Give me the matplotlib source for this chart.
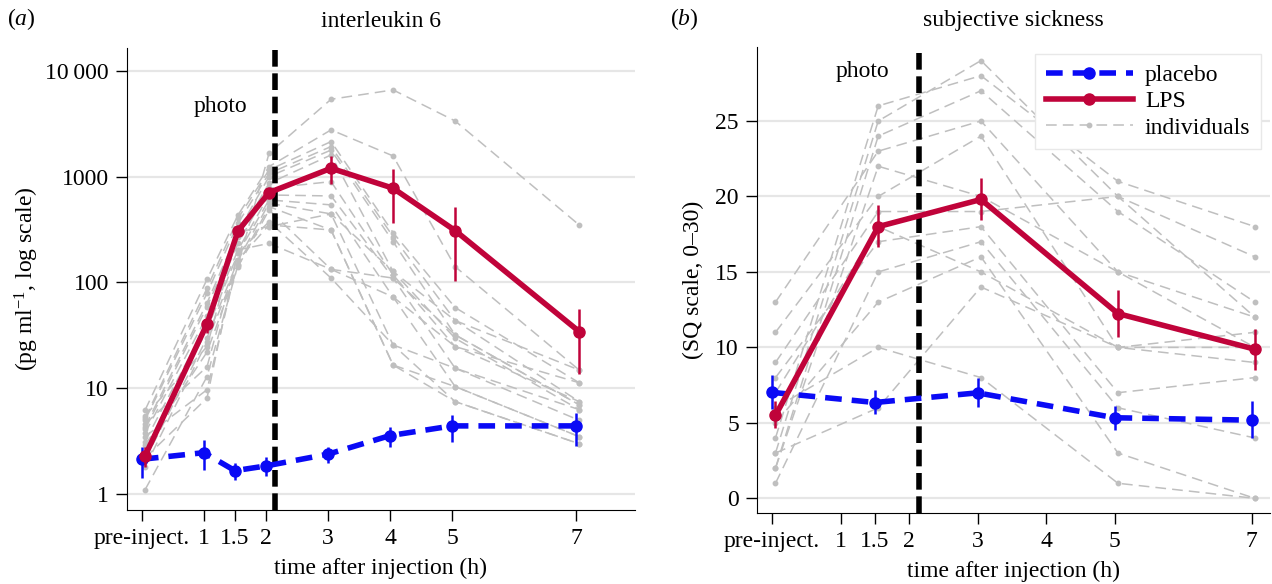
import numpy as np
import matplotlib
matplotlib.use("Agg")
import matplotlib.pyplot as plt
from matplotlib.lines import Line2D

plt.rcParams['font.family'] = ['Liberation Serif', 'DejaVu Serif']
plt.rcParams['mathtext.fontset'] = 'custom'
plt.rcParams['mathtext.rm'] = 'Liberation Serif'
plt.rcParams['mathtext.it'] = 'Liberation Serif:italic'
FS = 17
plt.rcParams['font.size'] = FS

# ---- data: interleukin 6 (pg/ml) ----
il6_times = [0, 1, 1.5, 2, 3, 4, 5, 7]
il6_lps = [2.3, 40.6, 307, 706, 1197, 776, 309, 34.4]
il6_lps_lo = [1.82, 33, 280, 650, 851, 367, 104, 13.6]
il6_lps_hi = [2.78, 46, 340, 780, 1567, 1172, 513, 55.8]
il6_pla = [2.14, 2.47, 1.67, 1.85, 2.39, 3.58, 4.42, 4.42]
il6_pla_lo = [1.42, 1.70, 1.37, 1.49, 1.99, 2.82, 3.14, 2.86]
il6_pla_hi = [2.78, 3.26, 1.99, 2.23, 2.78, 4.35, 5.62, 5.90]
il6_indiv = [
    [1.1, 12.9, 147, 1660, 5370, 6580, 3350, 349],
    [6.2, 107, 434, 1242, 2760, 1566, 141, 14.9],
    [5.2, 88, 404, 1156, 2140, 296, 58, 11.3],
    [5.0, 79, 363, 1072, 1920, 271, 43.7, 7.5],
    [4.35, 64, 302, 1000, 1780, 243, 32, 7.0],
    [4.1, 59, 271, 864, 1600, 127, 29.7, 6.3],
    [3.77, 48, 234, 775, 896, 118, 24.8, 7.5],
    [3.14, 41, 203, 670, 656, 110, 15.5, 6.3],
    [2.44, 36, 189, 602, 540, 73, 10.4, 3.5],
    [2.11, 30, 163, 560, 444, 25.7, 7.5, 3.0],
    [1.8, 27.6, 147, 520, 313, 16.6, 10.4, 3.5],
    [2.9, 22, 141, 484, 133, 110, 32, 7.0],
    [4.6, 16, 189, 375, 110, 25.7, 15.5, 5.0],
    [3.5, 9.7, 163, 349, 313, 16.6, 7.5, 3.0],
    [2.2, 8.1, 203, 234, 133, 73, 24.8, 11.3],
    [5.5, 24.8, 302, 337, 444, 127, 43.7, 14.9],
]

# ---- data: subjective sickness (SQ 0-30) ----
sq_times = [0, 1.5, 3, 5, 7]
sq_lps = [5.5, 18.0, 19.8, 12.24, 9.88]
sq_lps_lo = [4.63, 16.65, 18.42, 10.7, 8.49]
sq_lps_hi = [6.46, 19.46, 21.24, 13.79, 11.25]
sq_pla = [7.02, 6.35, 6.99, 5.34, 5.18]
sq_pla_lo = [5.89, 5.58, 6.02, 4.52, 3.97]
sq_pla_hi = [8.16, 7.17, 8.0, 6.11, 6.44]
sq_indiv = [
    [4, 26, 28, 21, 18],
    [3, 25, 29, 20, 16],
    [2, 24, 27, 19, 13],
    [13, 23, 25, 15, 12],
    [11, 20, 24, 10, 11],
    [9, 19, 19, 20, 12],
    [8, 17, 18, 7, 8],
    [1, 15, 17, 6, 4],
    [5, 13, 16, 3, 0],
    [6, 10, 8, 1, 0],
    [3, 6, 14, 10, 10],
    [7, 18, 15, 10, 9],
    [2, 22, 20, 15, 10],
]

tick_pos = [0, 1, 1.5, 2, 3, 4, 5, 7]
tick_lab = ['pre-inject.', '1', '1.5', '2', '3', '4', '5', '7']
photo_time = 2.15

RED = '#c0033a'
BLUE = '#0a0af5'
GREY = '#bfbfbf'
dodge = 0.05


def draw_panel(ax, t, lps, lps_lo, lps_hi, pla, pla_lo, pla_hi, indiv):
    t = np.array(t, dtype=float)
    for row in indiv:
        ax.plot(t + dodge, row, color=GREY, lw=1.1, ls=(0, (7, 4)),
                marker='o', ms=3.2, zorder=1)
    ax.axvline(photo_time, color='black', lw=4, ls=(0, (3, 1.2)), zorder=2)
    lps = np.array(lps)
    pla = np.array(pla)
    ax.errorbar(t, pla, yerr=[pla - np.array(pla_lo), np.array(pla_hi) - pla],
                color=BLUE, lw=4, ls=(0, (3, 1.8)), marker='o', ms=8,
                elinewidth=1.8, capsize=0, zorder=3)
    ax.errorbar(t + dodge, lps, yerr=[lps - np.array(lps_lo), np.array(lps_hi) - lps],
                color=RED, lw=4, marker='o', ms=8,
                elinewidth=1.8, capsize=0, zorder=4)
    ax.set_xticks(tick_pos)
    ax.set_xticklabels(tick_lab)
    ax.spines['top'].set_visible(False)
    ax.spines['right'].set_visible(False)
    ax.grid(axis='y', color='#e6e6e6', lw=1.6, zorder=0)
    ax.set_axisbelow(True)
    ax.tick_params(length=8, width=1, pad=5, labelsize=FS)
    ax.set_xlabel('time after injection (h)', fontsize=FS, labelpad=6)


fig = plt.figure(figsize=(12.72, 5.84), dpi=100)

# panel (a)
ax1 = fig.add_axes([127 / 1272, 74 / 584, 508 / 1272, 462 / 584])
draw_panel(ax1, il6_times, il6_lps, il6_lps_lo, il6_lps_hi,
           il6_pla, il6_pla_lo, il6_pla_hi, il6_indiv)
ax1.set_yscale('log')
ax1.set_ylim(0.71, 16370)
ax1.set_xlim(-0.24, 7.95)
ax1.set_yticks([1, 10, 100, 1000, 10000])
ax1.set_yticklabels(['1', '10', '100', '1000', '10\u2009000'])
ax1.minorticks_off()
ax1.set_ylabel(r'(pg ml$^{-1}$, log scale)', fontsize=FS, labelpad=3)
ax1.text(1.26, 4540, 'photo', ha='center', va='center', fontsize=FS)
ax1.set_title('interleukin 6', fontsize=FS, pad=15)

# panel (b)
ax2 = fig.add_axes([757 / 1272, 71 / 584, 513 / 1272, 466 / 584])
draw_panel(ax2, sq_times, sq_lps, sq_lps_lo, sq_lps_hi,
           sq_pla, sq_pla_lo, sq_pla_hi, sq_indiv)
ax2.set_ylim(-0.97, 29.9)
ax2.set_xlim(-0.22, 7.27)
ax2.set_yticks([0, 5, 10, 15, 20, 25])
ax2.set_ylabel('(SQ scale, 0\u201330)', fontsize=FS, labelpad=8)
ax2.text(1.32, 28.25, 'photo', ha='center', va='center', fontsize=FS)
ax2.set_title('subjective sickness', fontsize=FS, pad=15)

handles = [
    Line2D([], [], color=BLUE, lw=4, ls=(0, (3, 1.8)), marker='o', ms=8),
    Line2D([], [], color=RED, lw=4, marker='o', ms=8),
    Line2D([], [], color=GREY, lw=1.1, ls=(0, (7, 4)), marker='o', ms=3.2),
]
leg = ax2.legend(handles, ['placebo', 'LPS', 'individuals'],
                 loc='upper right', bbox_to_anchor=(1261 / 1272, 1 - 54 / 584),
                 bbox_transform=fig.transFigure, borderaxespad=0,
                 fontsize=FS, handlelength=3.7, labelspacing=0.2,
                 borderpad=0.45, handletextpad=0.5,
                 fancybox=False, framealpha=1, edgecolor='#e8e8e8')
leg.set_zorder(10)

fig.text(7 / 1272, 1 - 19 / 584, r'($\it{a}$)', ha='left', va='center', fontsize=FS)
fig.text(670 / 1272, 1 - 19 / 584, r'($\it{b}$)', ha='left', va='center', fontsize=FS)

fig.savefig('out.png', dpi=100)
